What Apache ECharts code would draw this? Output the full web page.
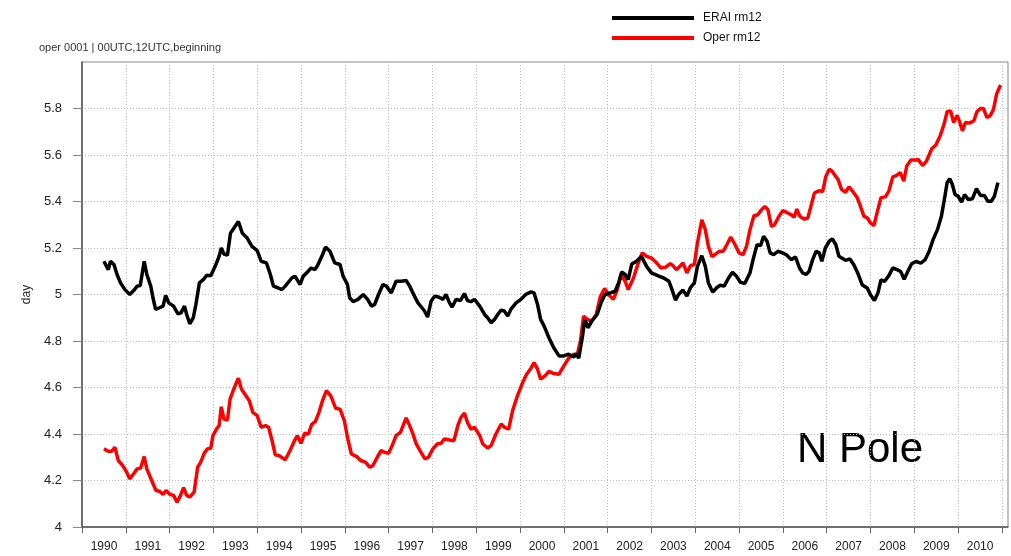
<!DOCTYPE html>
<html>
<head>
<meta charset="utf-8">
<script src="https://cdn.jsdelivr.net/npm/echarts@6/dist/echarts.min.js"></script>
<style>
  html, body { margin: 0; padding: 0; background: #fff; }
  #chart { width: 1011px; height: 556px; }
</style>
</head>
<body>
<div id="chart"></div>
<script>
// values (decimal year, day)
const eraiYears = [
  1990.50, 1990.60, 1990.65, 1990.73, 1990.80, 1990.88, 1990.98, 1991.09, 1991.18, 1991.26,
  1991.33, 1991.42, 1991.48, 1991.57, 1991.62, 1991.68, 1991.77, 1991.85, 1991.91, 1991.98,
  1992.09, 1992.19, 1992.26, 1992.34, 1992.39, 1992.46, 1992.54, 1992.60, 1992.68, 1992.77,
  1992.85, 1992.94, 1993.04, 1993.13, 1993.18, 1993.24, 1993.32, 1993.39, 1993.47, 1993.57,
  1993.66, 1993.77, 1993.88, 1994.00, 1994.09, 1994.21, 1994.30, 1994.37, 1994.47, 1994.56,
  1994.64, 1994.79, 1994.86, 1994.98, 1995.05, 1995.13, 1995.23, 1995.32, 1995.39, 1995.49,
  1995.56, 1995.66, 1995.77, 1995.89, 1995.96, 1996.06, 1996.11, 1996.19, 1996.30, 1996.42,
  1996.52, 1996.61, 1996.68, 1996.77, 1996.87, 1996.95, 1997.06, 1997.17, 1997.29, 1997.40,
  1997.48, 1997.59, 1997.67, 1997.76, 1997.82, 1997.89, 1997.97, 1998.05, 1998.14, 1998.24,
  1998.31, 1998.39, 1998.45, 1998.54, 1998.64, 1998.73, 1998.80, 1998.88, 1998.96, 1999.08,
  1999.19, 1999.26, 1999.34, 1999.42, 1999.49, 1999.57, 1999.64, 1999.72, 1999.79, 1999.91,
  2000.02, 2000.13, 2000.25, 2000.32, 2000.40, 2000.47, 2000.55, 2000.66, 2000.77, 2000.89,
  2001.00, 2001.11, 2001.23, 2001.28, 2001.34, 2001.42, 2001.48, 2001.55, 2001.64, 2001.76,
  2001.85, 2001.94, 2002.06, 2002.17, 2002.25, 2002.32, 2002.40, 2002.47, 2002.55, 2002.66,
  2002.77, 2002.89, 2003.00, 2003.17, 2003.28, 2003.40, 2003.47, 2003.55, 2003.62, 2003.72,
  2003.81, 2003.89, 2003.98, 2004.05, 2004.15, 2004.23, 2004.30, 2004.40, 2004.49, 2004.57,
  2004.66, 2004.76, 2004.85, 2004.94, 2005.03, 2005.13, 2005.25, 2005.32, 2005.41, 2005.49,
  2005.56, 2005.64, 2005.71, 2005.79, 2005.89, 2005.99, 2006.08, 2006.19, 2006.29, 2006.38,
  2006.45, 2006.53, 2006.60, 2006.68, 2006.76, 2006.83, 2006.89, 2006.97, 2007.06, 2007.13,
  2007.21, 2007.28, 2007.43, 2007.53, 2007.62, 2007.71, 2007.81, 2007.93, 2008.00, 2008.09,
  2008.17, 2008.24, 2008.32, 2008.42, 2008.51, 2008.62, 2008.69, 2008.77, 2008.87, 2008.94,
  2009.04, 2009.15, 2009.25, 2009.34, 2009.43, 2009.53, 2009.62, 2009.70, 2009.75, 2009.81,
  2009.87, 2009.93, 2010.00, 2010.08, 2010.15, 2010.23, 2010.33, 2010.42, 2010.51, 2010.60,
  2010.68, 2010.76, 2010.83, 2010.91
];
const eraiValues = [
  5.143, 5.107, 5.143, 5.129, 5.086, 5.050, 5.021, 5.000, 5.017, 5.036,
  5.039, 5.143, 5.086, 5.036, 4.986, 4.936, 4.943, 4.950, 4.996, 4.964,
  4.950, 4.917, 4.921, 4.950, 4.914, 4.874, 4.900, 4.957, 5.050, 5.064,
  5.083, 5.081, 5.121, 5.164, 5.200, 5.174, 5.169, 5.264, 5.286, 5.314,
  5.264, 5.243, 5.207, 5.189, 5.143, 5.136, 5.086, 5.036, 5.029, 5.021,
  5.036, 5.071, 5.079, 5.043, 5.079, 5.093, 5.114, 5.107, 5.129, 5.171,
  5.204, 5.186, 5.136, 5.129, 5.079, 5.043, 4.986, 4.969, 4.979, 5.000,
  4.979, 4.950, 4.957, 5.000, 5.043, 5.036, 5.007, 5.057, 5.057, 5.060,
  5.036, 4.993, 4.964, 4.943, 4.929, 4.903, 4.971, 4.993, 4.989, 4.979,
  5.000, 4.964, 4.946, 4.979, 4.974, 5.004, 4.974, 4.969, 4.979, 4.950,
  4.914, 4.900, 4.879, 4.893, 4.914, 4.933, 4.929, 4.907, 4.936, 4.964,
  4.979, 5.000, 5.011, 5.007, 4.957, 4.893, 4.864, 4.814, 4.771, 4.736,
  4.736, 4.743, 4.731, 4.746, 4.726, 4.814, 4.893, 4.857, 4.886, 4.914,
  4.964, 5.000, 5.007, 5.014, 5.050, 5.097, 5.086, 5.064, 5.131, 5.143,
  5.164, 5.121, 5.093, 5.079, 5.071, 5.057, 5.021, 4.976, 5.000, 5.019,
  4.993, 5.029, 5.050, 5.121, 5.167, 5.121, 5.050, 5.010, 5.029, 5.040,
  5.036, 5.071, 5.096, 5.079, 5.053, 5.047, 5.093, 5.150, 5.214, 5.210,
  5.250, 5.229, 5.179, 5.171, 5.186, 5.179, 5.171, 5.150, 5.161, 5.114,
  5.093, 5.086, 5.100, 5.150, 5.186, 5.179, 5.143, 5.200, 5.229, 5.239,
  5.214, 5.164, 5.147, 5.153, 5.128, 5.092, 5.042, 5.027, 4.999, 4.974,
  5.006, 5.063, 5.056, 5.081, 5.114, 5.106, 5.099, 5.066, 5.106, 5.132,
  5.142, 5.135, 5.150, 5.186, 5.236, 5.279, 5.337, 5.423, 5.481, 5.498,
  5.473, 5.430, 5.423, 5.397, 5.430, 5.409, 5.412, 5.455, 5.426, 5.426,
  5.401, 5.401, 5.423, 5.481
];
const operYears = [
  1990.50, 1990.60, 1990.68, 1990.75, 1990.83, 1990.93, 1991.02, 1991.09, 1991.18, 1991.26,
  1991.34, 1991.42, 1991.48, 1991.56, 1991.63, 1991.69, 1991.77, 1991.85, 1991.92, 1992.01,
  1992.09, 1992.17, 1992.25, 1992.32, 1992.39, 1992.46, 1992.56, 1992.64, 1992.71, 1992.79,
  1992.86, 1992.94, 1992.99, 1993.07, 1993.13, 1993.18, 1993.24, 1993.32, 1993.38, 1993.45,
  1993.51, 1993.57, 1993.64, 1993.72, 1993.82, 1993.90, 1994.00, 1994.09, 1994.19, 1994.26,
  1994.34, 1994.41, 1994.50, 1994.64, 1994.75, 1994.85, 1994.92, 1995.00, 1995.08, 1995.17,
  1995.24, 1995.33, 1995.41, 1995.49, 1995.58, 1995.68, 1995.79, 1995.89, 1995.99, 1996.06,
  1996.15, 1996.27, 1996.36, 1996.47, 1996.57, 1996.64, 1996.74, 1996.83, 1996.91, 1997.00,
  1997.08, 1997.17, 1997.27, 1997.40, 1997.48, 1997.55, 1997.63, 1997.74, 1997.83, 1997.91,
  1998.01, 1998.11, 1998.20, 1998.27, 1998.39, 1998.49, 1998.58, 1998.65, 1998.73, 1998.80,
  1998.88, 1998.96, 1999.08, 1999.15, 1999.26, 1999.34, 1999.45, 1999.57, 1999.64, 1999.74,
  1999.83, 1999.94, 2000.06, 2000.15, 2000.25, 2000.32, 2000.40, 2000.47, 2000.57, 2000.66,
  2000.77, 2000.89, 2001.00, 2001.11, 2001.23, 2001.30, 2001.38, 2001.45, 2001.53, 2001.64,
  2001.74, 2001.83, 2001.93, 2002.02, 2002.13, 2002.21, 2002.31, 2002.40, 2002.47, 2002.59,
  2002.70, 2002.79, 2002.89, 2003.00, 2003.13, 2003.22, 2003.32, 2003.43, 2003.49, 2003.57,
  2003.65, 2003.72, 2003.81, 2003.89, 2003.98, 2004.05, 2004.15, 2004.23, 2004.30, 2004.38,
  2004.45, 2004.55, 2004.64, 2004.72, 2004.81, 2004.91, 2005.00, 2005.09, 2005.17, 2005.25,
  2005.34, 2005.43, 2005.51, 2005.59, 2005.66, 2005.74, 2005.81, 2005.91, 2006.00, 2006.09,
  2006.19, 2006.26, 2006.32, 2006.39, 2006.49, 2006.57, 2006.64, 2006.72, 2006.82, 2006.91,
  2006.98, 2007.06, 2007.13, 2007.21, 2007.26, 2007.34, 2007.43, 2007.51, 2007.61, 2007.70,
  2007.77, 2007.85, 2007.93, 2008.00, 2008.08, 2008.15, 2008.24, 2008.34, 2008.42, 2008.51,
  2008.60, 2008.68, 2008.76, 2008.83, 2008.92, 2009.02, 2009.09, 2009.19, 2009.28, 2009.40,
  2009.49, 2009.59, 2009.68, 2009.75, 2009.83, 2009.90, 2009.98, 2010.04, 2010.10, 2010.17,
  2010.26, 2010.36, 2010.43, 2010.51, 2010.58, 2010.66, 2010.73, 2010.81, 2010.88, 2010.97
];
const operValues = [
  4.336, 4.326, 4.326, 4.343, 4.286, 4.264, 4.236, 4.207, 4.229, 4.250,
  4.254, 4.303, 4.250, 4.214, 4.183, 4.157, 4.154, 4.140, 4.157, 4.140,
  4.136, 4.107, 4.136, 4.169, 4.136, 4.129, 4.150, 4.257, 4.279, 4.317,
  4.336, 4.339, 4.393, 4.421, 4.436, 4.517, 4.464, 4.460, 4.550, 4.586,
  4.614, 4.640, 4.593, 4.571, 4.543, 4.493, 4.479, 4.429, 4.436, 4.429,
  4.371, 4.311, 4.307, 4.289, 4.329, 4.371, 4.393, 4.360, 4.403, 4.400,
  4.440, 4.454, 4.493, 4.543, 4.586, 4.564, 4.511, 4.507, 4.457, 4.386,
  4.314, 4.303, 4.286, 4.279, 4.257, 4.264, 4.300, 4.329, 4.321, 4.317,
  4.350, 4.393, 4.407, 4.469, 4.436, 4.403, 4.357, 4.321, 4.293, 4.300,
  4.336, 4.357, 4.360, 4.379, 4.374, 4.371, 4.436, 4.471, 4.490, 4.450,
  4.421, 4.429, 4.393, 4.357, 4.340, 4.350, 4.400, 4.443, 4.429, 4.421,
  4.500, 4.564, 4.621, 4.657, 4.683, 4.707, 4.679, 4.636, 4.650, 4.669,
  4.660, 4.657, 4.693, 4.726, 4.743, 4.736, 4.800, 4.907, 4.893, 4.886,
  4.914, 4.989, 5.026, 5.000, 4.979, 5.014, 5.086, 5.057, 5.021, 5.071,
  5.136, 5.179, 5.164, 5.157, 5.133, 5.114, 5.117, 5.133, 5.124, 5.107,
  5.121, 5.136, 5.093, 5.124, 5.129, 5.221, 5.321, 5.279, 5.207, 5.164,
  5.171, 5.186, 5.186, 5.214, 5.247, 5.214, 5.179, 5.171, 5.207, 5.279,
  5.339, 5.343, 5.364, 5.379, 5.364, 5.293, 5.300, 5.336, 5.361, 5.353,
  5.343, 5.333, 5.367, 5.336, 5.324, 5.329, 5.379, 5.436, 5.446, 5.443,
  5.507, 5.539, 5.529, 5.507, 5.495, 5.452, 5.440, 5.463, 5.440, 5.416,
  5.380, 5.337, 5.329, 5.308, 5.296, 5.351, 5.416, 5.420, 5.445, 5.506,
  5.512, 5.524, 5.488, 5.553, 5.578, 5.578, 5.581, 5.555, 5.574, 5.627,
  5.642, 5.682, 5.732, 5.786, 5.790, 5.740, 5.771, 5.740, 5.704, 5.740,
  5.737, 5.747, 5.786, 5.800, 5.800, 5.761, 5.768, 5.797, 5.862, 5.901
];
// year boundaries carrying ticks / grid lines, and the y tick values
const yearTicks = [
  1990, 1991, 1992, 1993, 1994, 1995, 1996, 1997, 1998, 1999, 2000,
  2001, 2002, 2003, 2004, 2005, 2006, 2007, 2008, 2009, 2010, 2011
];
const yTicks = [4, 4.2, 4.4, 4.6, 4.8, 5, 5.2, 5.4, 5.6, 5.8];
const seriesNames = ["ERAI rm12", "Oper rm12"];
const headerText = "oper 0001 | 00UTC,12UTC,beginning";
const regionText = "N Pole";

const FONT = "'Liberation Sans', Arial, sans-serif";

function pairs(xs, ys) {
  return xs.map((x, i) => [x, ys[i]]);
}

const chart = echarts.init(document.getElementById("chart"), null, { renderer: "canvas" });

chart.setOption({
  animation: false,
  backgroundColor: "#fff",
  textStyle: { fontFamily: FONT },
  title: {
    text: headerText,
    left: 34,
    top: 37,
    textStyle: { fontSize: 11, fontWeight: "normal", color: "#333", fontFamily: FONT },
  },
  legend: {
    orient: "vertical",
    left: 607,
    top: 7,
    itemWidth: 82,
    itemHeight: 4,
    itemGap: 8,
    icon: "rect",
    data: seriesNames,
    textStyle: { fontSize: 12, color: "#111", fontFamily: FONT, padding: [0, 0, 0, 4] },
  },
  grid: {
    left: 82,
    right: 1,
    top: 62,
    bottom: 29,
    show: true,
    borderColor: "#888",
    borderWidth: 1,
  },
  xAxis: {
    type: "value",
    min: 1990,
    max: 2011.14,
    interval: 1,
    axisLine: { show: true, lineStyle: { color: "#555", width: 1.5 } },
    axisTick: { show: true, length: 6, customValues: yearTicks, lineStyle: { color: "#666" } },
    splitLine: { show: true, lineStyle: { color: "#bdbdbd", type: [1, 2], width: 1 } },
    axisLabel: {
      margin: 14,
      fontSize: 12,
      color: "#222",
      fontFamily: FONT,
      padding: [0, 0, 0, 44],
      formatter: (v) => (Number.isInteger(v) && v <= 2010 ? String(v) : ""),
    },
  },
  yAxis: {
    type: "value",
    min: 4,
    max: 6,
    interval: 0.2,
    name: "day",
    nameLocation: "middle",
    nameGap: 48,
    nameTextStyle: { fontSize: 12, color: "#222", fontFamily: FONT },
    axisLine: { show: true, lineStyle: { color: "#555", width: 1.5 } },
    axisTick: { show: true, length: 9, customValues: yTicks, lineStyle: { color: "#888" } },
    splitLine: { show: true, lineStyle: { color: "#bdbdbd", type: [1, 2], width: 1 } },
    axisLabel: {
      margin: 20,
      fontSize: 13,
      color: "#222",
      fontFamily: FONT,
      formatter: (v) => (v >= 5.999 ? "" : String(Math.round(v * 10) / 10)),
    },
  },
  graphic: [
    {
      type: "text",
      left: 797,
      top: 429,
      style: { text: regionText, font: `42px ${FONT}`, fill: "#000" },
    },
  ],
  series: [
    {
      name: seriesNames[0],
      type: "line",
      data: pairs(eraiYears, eraiValues),
      showSymbol: false,
      color: "#000",
      lineStyle: { width: 3.5, color: "#000" },
      z: 3,
    },
    {
      name: seriesNames[1],
      type: "line",
      data: pairs(operYears, operValues),
      showSymbol: false,
      color: "#ff0000",
      lineStyle: { width: 3.5, color: "#ff0000" },
      z: 2,
    },
  ],
});
</script>
</body>
</html>
